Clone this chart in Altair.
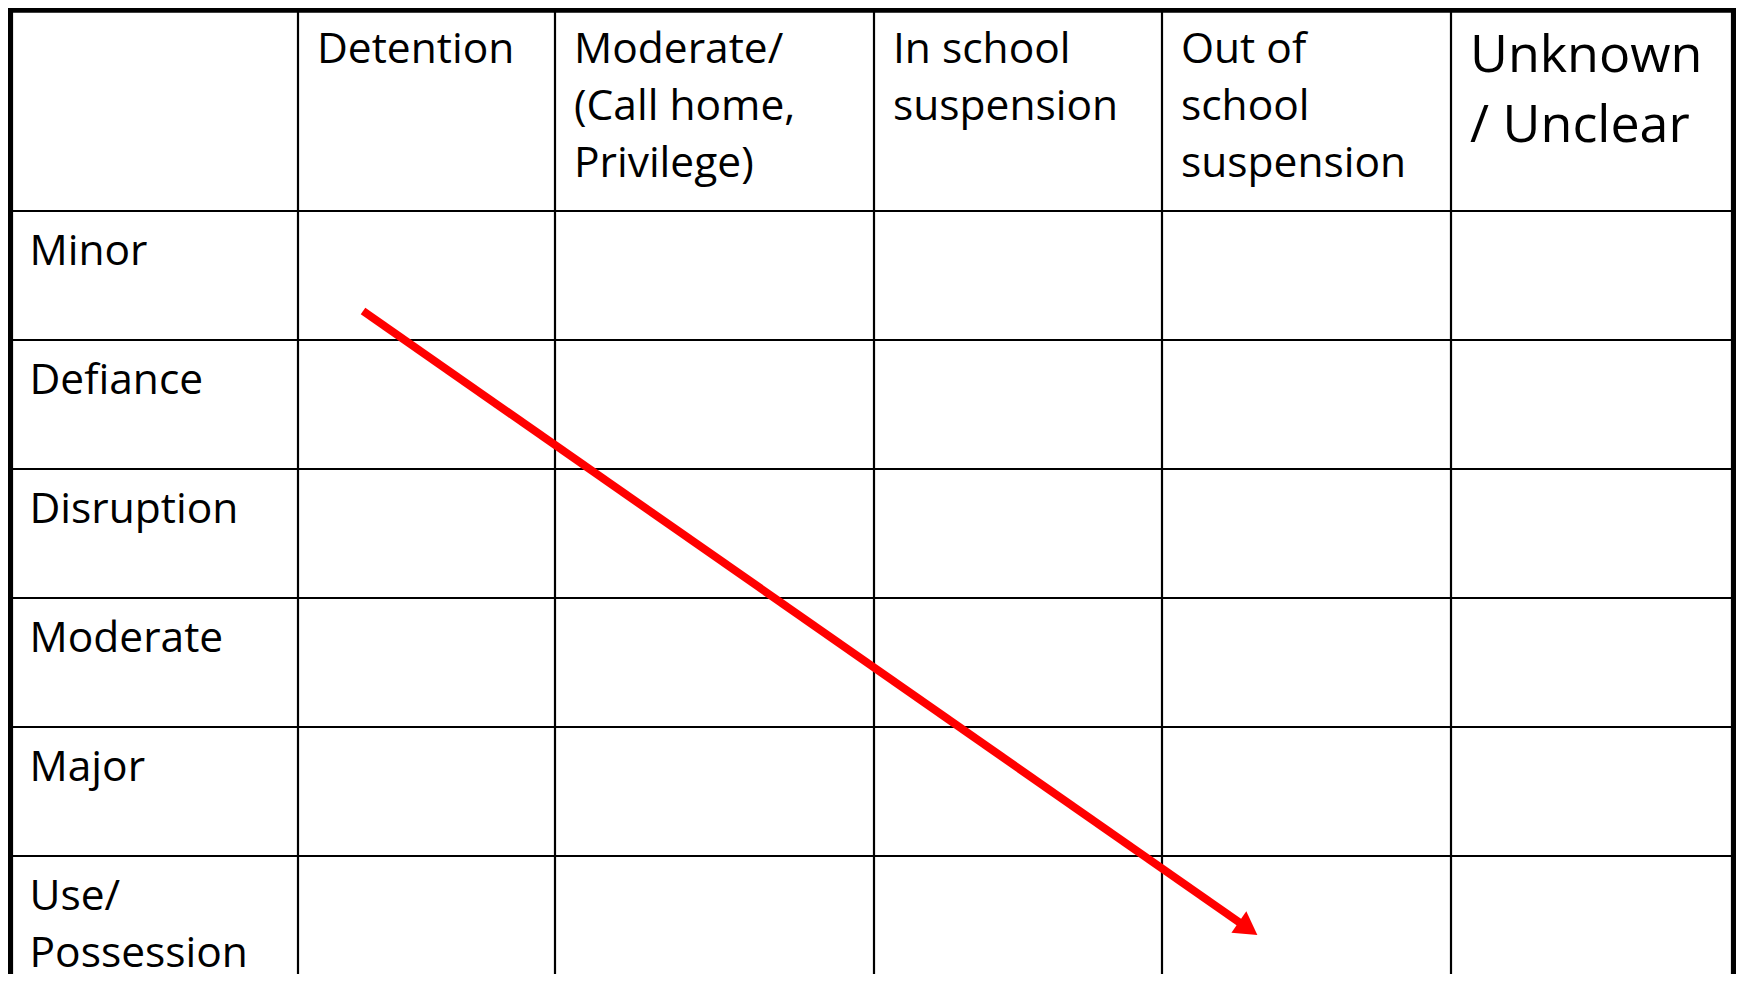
import math
import altair as alt
import pandas as pd

# ---- table content ----
col_names = ["", "Detention", "Moderate/ (Call home, Privilege)", "In school suspension",
             "Out of school suspension", "Unknown / Unclear"]
col_labels = ["", "Detention", "Moderate/\n(Call home,\nPrivilege)", "In school\nsuspension",
              "Out of\nschool\nsuspension", "Unknown\n/ Unclear"]
row_names = ["Minor", "Defiance", "Disruption", "Moderate", "Major", "Use/Possession"]
row_labels = ["Minor", "Defiance", "Disruption", "Moderate", "Major", "Use/\nPossession"]

# arrow: from a spot in (Detention, Minor) to a spot in (Out of school suspension, Use/Possession)
arrow_from = ("Detention", "Minor", 0.253, 0.775)
arrow_to = ("Out of school suspension", "Use/Possession", 0.33, 0.612)

# ---- layout (pixels of the plot area) ----
W, H = 1728, 966
col_edges = [2.5, 290, 547, 866, 1154, 1443, 1725.5]
row_edges = [2.2, 203, 332, 461, 590, 719, 848, 977]
pad_x = 19
head_base = 53
head_base_big = 62
row_base = 54
fs, fs_big = 42.5, 52
lh, lh_big = 57, 70
outer_w, inner_w = 5.2, 2.2
red = "#FF0000"

xs = alt.Scale(domain=[0, W], range=[0, W], zero=False, nice=False)
ys = alt.Scale(domain=[0, H], range=[0, H], zero=False, nice=False)

# grid lines
vlines = pd.DataFrame({
    "x": col_edges,
    "y": [row_edges[0]] * len(col_edges),
    "y2": [row_edges[-1]] * len(col_edges),
    "w": [outer_w] + [inner_w] * (len(col_edges) - 2) + [outer_w],
})
hlines = pd.DataFrame({
    "y": row_edges,
    "x": [col_edges[0]] * len(row_edges),
    "x2": [col_edges[-1]] * len(row_edges),
    "w": [outer_w] + [inner_w] * (len(row_edges) - 2) + [outer_w],
})

v = alt.Chart(vlines).mark_rule(color="black", strokeCap="square").encode(
    x=alt.X("x:Q", scale=xs, axis=None),
    y=alt.Y("y:Q", scale=ys, axis=None),
    y2="y2:Q",
    strokeWidth=alt.StrokeWidth("w:Q", scale=None, legend=None),
)
h = alt.Chart(hlines).mark_rule(color="black", strokeCap="square").encode(
    y=alt.Y("y:Q", scale=ys, axis=None),
    x=alt.X("x:Q", scale=xs, axis=None),
    x2="x2:Q",
    strokeWidth=alt.StrokeWidth("w:Q", scale=None, legend=None),
)

# header text
head = pd.DataFrame({
    "label": col_labels[1:-1],
    "x": [e + pad_x for e in col_edges[1:-2]],
    "y": [row_edges[0] + head_base] * (len(col_labels) - 2),
})
head_big = pd.DataFrame({
    "label": [col_labels[-1]],
    "x": [col_edges[-2] + pad_x],
    "y": [row_edges[0] + head_base_big],
})
rows = pd.DataFrame({
    "label": row_labels,
    "x": [col_edges[0] + pad_x] * len(row_labels),
    "y": [e + row_base for e in row_edges[1:-1]],
})

def text_layer(df, size, lineh):
    return alt.Chart(df).mark_text(
        align="left", baseline="alphabetic", font="Open Sans", fontSize=size,
        lineBreak="\n", lineHeight=lineh, color="black",
    ).encode(
        x=alt.X("x:Q", scale=xs, axis=None),
        y=alt.Y("y:Q", scale=ys, axis=None),
        text="label:N",
    )

t1 = text_layer(head, fs, lh)
t2 = text_layer(head_big, fs_big, lh_big)
t3 = text_layer(rows, fs, lh)

# arrow
def cell_point(col, row, fx, fy):
    i = col_names.index(col)
    j = row_names.index(row) + 1
    x = col_edges[i] + fx * (col_edges[i + 1] - col_edges[i])
    y = row_edges[j] + fy * (row_edges[j + 1] - row_edges[j])
    return x, y

x0, y0 = cell_point(*arrow_from)
x1, y1 = cell_point(*arrow_to)
ang = math.degrees(math.atan2(y1 - y0, x1 - x0))
head_size = 680
head_len = math.sqrt(head_size) * math.sqrt(3) / 2
ux, uy = math.cos(math.radians(ang)), math.sin(math.radians(ang))
cx, cy = x1 - ux * head_len / 2, y1 - uy * head_len / 2

shaft = alt.Chart(pd.DataFrame({"x": [x0], "y": [y0], "x2": [cx], "y2": [cy]})).mark_rule(
    color=red, strokeWidth=8, strokeCap="butt"
).encode(
    x=alt.X("x:Q", scale=xs, axis=None),
    y=alt.Y("y:Q", scale=ys, axis=None),
    x2="x2:Q", y2="y2:Q",
)
tip = alt.Chart(pd.DataFrame({"x": [cx], "y": [cy]})).mark_point(
    shape="triangle-right", filled=True, size=head_size, angle=ang, color=red, opacity=1, strokeWidth=0
).encode(
    x=alt.X("x:Q", scale=xs, axis=None),
    y=alt.Y("y:Q", scale=ys, axis=None),
)

chart = alt.layer(h, v, t1, t2, t3, shaft, tip).properties(
    width=W, height=H, padding=0, autosize=alt.AutoSizeParams(type="none"),
    background="white",
).configure_view(stroke=None)

chart.save("out.html", embed_options={"renderer": "svg", "actions": False})
